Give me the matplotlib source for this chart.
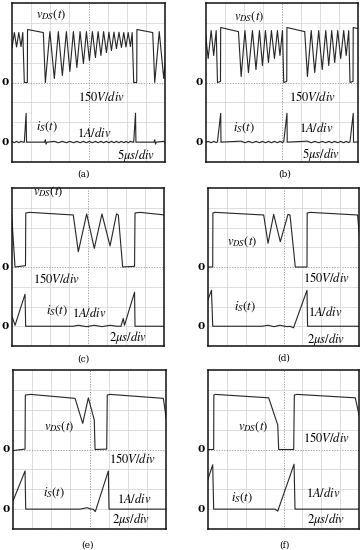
import numpy as np
import matplotlib.pyplot as plt

plt.rcParams['mathtext.fontset'] = 'stix'

W, H = 364, 550

V_DIV = 150.0      # V/div
I_DIV = 1.0        # A/div
I_ZERO = -3.0      # ground of the iS trace, in divisions from centre

# -------------------------------
# (a) 5us/div - one switching cycle, repeats
# -------------------------------
a_tdiv = 5.0
a_period = 28.6
a_first_on = 3.22
a_v_t = [0.0, 0.79, 0.84, 4.97,
         5.50, 6.68, 7.85, 8.90, 9.95, 11.0, 11.91, 12.83, 13.74, 14.58,
         15.45, 16.23, 17.02, 17.80, 18.59, 19.29, 20.03, 20.73, 21.47, 22.12,
         22.78, 23.43, 24.09, 24.74, 25.39, 26.0, 26.57, 27.15, 27.75, 28.2]
a_v = [0, 0, 400, 377,
       0, 384, 30, 384, 53, 384, 83, 384, 113, 384,
       143, 384, 166, 384, 188, 384, 204, 384, 226, 380,
       241, 380, 256, 380, 264, 377, 268, 377, 271, 377]
a_i_t = [0.0, 0.47, 0.58, 5.3, 5.5, 5.7, 5.9,
         7.85, 8.90, 9.95, 11.0, 11.91, 12.83, 13.74, 14.58, 15.45, 16.23,
         17.02, 17.80, 18.59, 19.29, 20.03, 20.73, 21.47, 22.12, 22.78, 23.43,
         24.09, 24.74, 25.39, 26.0, 26.57, 27.15, 27.75, 28.3]
a_i = [0.0, 1.45, 0.0, 0.0, 0.12, -0.1, 0.0,
       0.04, -0.03, 0.04, -0.03, 0.04, -0.03, 0.04, -0.03, 0.04, -0.03,
       0.04, -0.03, 0.04, -0.03, 0.04, -0.03, 0.04, -0.03, 0.04, -0.03,
       0.04, -0.03, 0.04, -0.03, 0.04, -0.03, 0.04, 0.0]

# -------------------------------
# (b) 5us/div - one switching cycle, repeats
# -------------------------------
b_tdiv = 5.0
b_period = 17.44
b_first_on = 3.02
b_v_t = [0.0, 0.79, 0.84, 5.52, 6.23, 7.23, 8.15, 9.2, 10.13, 11.05,
         11.84, 12.62, 13.41, 14.2, 14.99, 15.78, 16.44, 17.1]
b_v = [0, 8, 415, 384, 45, 392, 75, 392, 98, 392,
       128, 392, 151, 392, 181, 392, 204, 392]
b_i_t = [0.0, 0.85, 0.92, 6.23, 7.23, 8.15, 9.2, 10.13, 11.05, 11.84,
         12.62, 13.41, 14.2, 14.99, 15.78, 16.44, 17.1, 17.3]
b_i = [0.03, 1.45, 0.0, 0.05, -0.03, 0.04, -0.03, 0.04, -0.03, 0.04,
       -0.03, 0.04, -0.03, 0.04, -0.03, 0.04, -0.02, 0.0]

# -------------------------------
# (c) - (f) 2us/div
# -------------------------------
cf_tdiv = 2.0

c_v_t = [-0.05, 0.32, 1.42, 1.45, 1.89, 6.45, 6.98, 7.86, 8.66, 9.47,
         10.32, 11.0, 11.19, 11.65, 12.9, 12.95, 13.47, 16.1]
c_v = [410, 0, 10, 410, 415, 395, 116, 403, 142, 403,
       160, 403, 395, 0, 5, 410, 415, 395]
c_i_t = [0.03, 0.32, 1.37, 1.44, 6.42, 6.98, 7.86, 8.66, 9.47, 10.32,
         11.05, 11.47, 11.71, 11.84, 12.9, 12.95, 16.1]
c_i = [0.46, 0.05, 1.62, 0.0, 0.0, 0.05, -0.02, 0.05, -0.02, 0.05,
       0.0, 0.0, 0.4, 0.05, 1.72, 0.0, 0.0]

d_v_t = [-0.1, 0.50, 0.52, 0.74, 5.90, 6.36, 6.96, 7.66, 8.48, 8.69,
         9.25, 10.49, 10.51, 10.81, 15.85, 15.97, 16.05]
d_v = [0, 0, 410, 415, 395, 180, 400, 192, 400, 395,
       0, 0, 410, 415, 395, 296, 230]
d_i_t = [-0.05, 0.37, 0.50, 5.72, 6.36, 7.0, 7.63, 8.37, 8.69, 9.06,
         10.49, 10.55, 16.1]
d_i = [1.29, 1.82, 0.0, 0.0, 0.05, -0.02, 0.05, -0.02, 0.0, -0.08,
       1.82, 0.0, 0.0]

e_v_t = [0.0, 1.26, 1.29, 1.85, 6.49, 7.29, 7.88, 8.50, 8.58, 9.80,
         9.86, 10.15, 15.72, 15.97, 16.1]
e_v = [-8, 3, 411, 416, 386, 197, 390, 222, 0, 3,
       411, 416, 386, 260, 200]
e_i_t = [-0.05, 1.26, 1.33, 7.01, 7.32, 7.74, 8.16, 8.37, 8.61, 9.97,
         10.04, 16.1]
e_i = [0.35, 1.92, 0.0, 0.0, 0.03, 0.07, 0.0, 0.0, -0.12, 1.92,
       0.0, 0.0]

f_v_t = [-0.1, 0.60, 0.62, 0.77, 6.43, 7.39, 7.49, 9.08, 9.15, 9.43,
         15.61, 16.0]
f_v = [0, 0, 411, 416, 390, 185, 0, 0, 411, 416,
       390, 260]
f_i_t = [-0.05, 0.50, 0.60, 7.1, 7.39, 9.12, 9.22, 16.1]
f_i = [1.44, 2.23, 0.0, 0.0, -0.1, 2.26, 0.0, 0.0]

captions = ['(a)', '(b)', '(c)', '(d)', '(e)', '(f)']
tdiv_text = [r'$5\mu s/div$', r'$5\mu s/div$', r'$2\mu s/div$',
             r'$2\mu s/div$', r'$2\mu s/div$', r'$2\mu s/div$']


def tile(t, y, first_on, period, t_end):
    ts, ys = [], []
    k = -1
    while first_on + k * period < t_end:
        ts.append(np.asarray(t, float) + first_on + k * period)
        ys.append(np.asarray(y, float))
        k += 1
    return np.concatenate(ts), np.concatenate(ys)


a_vt, a_vv = tile(a_v_t, a_v, a_first_on, a_period, 8 * a_tdiv)
a_it, a_ii = tile(a_i_t, a_i, a_first_on, a_period, 8 * a_tdiv)
b_vt, b_vv = tile(b_v_t, b_v, b_first_on, b_period, 8 * b_tdiv)
b_it, b_ii = tile(b_i_t, b_i, b_first_on, b_period, 8 * b_tdiv)

traces = [
    (a_tdiv, a_vt, a_vv, a_it, a_ii),
    (b_tdiv, b_vt, b_vv, b_it, b_ii),
    (cf_tdiv, c_v_t, c_v, c_i_t, c_i),
    (cf_tdiv, d_v_t, d_v, d_i_t, d_i),
    (cf_tdiv, e_v_t, e_v, e_i_t, e_i),
    (cf_tdiv, f_v_t, f_v, f_i_t, f_i),
]

# -------------------------------
# layout (pixels of the 364x550 picture)
# -------------------------------
boxes = [(12, 3, 165, 162), (206, 3, 358, 162),
         (12, 188, 164, 346), (208, 188, 359, 346),
         (13, 370, 166, 529), (208, 370, 359, 529)]
# v label, 150V/div, iS label, 1A/div, time/div, caption
label_px = [
    [(51, 15), (101, 97), (47, 127), (94, 133), (136, 156), (83, 174)],
    [(249, 17), (312, 97), (244, 128), (316, 128), (321, 155), (285, 174)],
    [(48, 192), (56, 279), (57, 311), (89, 313), (128, 338), (83, 359)],
    [(242, 242), (326, 278), (245, 307), (325, 312), (326, 339), (284, 358)],
    [(59, 427), (132, 459), (54, 493), (134, 499), (131, 519), (88, 545)],
    [(253, 427), (326, 438), (242, 498), (323, 493), (326, 519), (284, 545)],
]

fig = plt.figure(figsize=(W / 100, H / 100), dpi=100)

for n, (box, (tdiv, vt, vv, it, ii)) in enumerate(zip(boxes, traces)):
    l, t, r, b = box
    ax = fig.add_axes([l / W, 1 - b / H, (r - l) / W, (b - t) / H])
    ax.set_xlim(0, 8 * tdiv)
    ax.set_ylim(-4, 4)
    for k in range(1, 8):
        if k == 4:
            kw = dict(color='#9a9a9a', lw=0.7, ls=(0, (1.2, 1.5)))
        else:
            kw = dict(color='#d8d8d8', lw=0.6, ls='-')
        ax.axvline(k * tdiv, zorder=0, **kw)
        ax.axhline(k - 4, zorder=0, **kw)
    ax.set_xticks([])
    ax.set_yticks([])
    for s in ax.spines.values():
        s.set_linewidth(1.1)
        s.set_color('#111111')

    ax.plot(vt, np.asarray(vv) / V_DIV, color='#262626', lw=0.8)
    ax.plot(it, np.asarray(ii) / I_DIV + I_ZERO, color='#262626', lw=0.8)

    for yy in (0, I_ZERO):
        ax.annotate('0', xy=(0, yy), xycoords=('axes fraction', 'data'),
                    xytext=(-3, 0), textcoords='offset pixels',
                    ha='right', va='center', fontsize=7.5,
                    family='DejaVu Serif', weight='bold')

    texts = [r'$v_{DS}(t)$', r'$150V/div$', r'$i_S(t)$', r'$1A/div$',
             tdiv_text[n]]
    for s, (x, y) in zip(texts, label_px[n][:5]):
        fig.text(x / W, 1 - y / H, s, ha='center', va='center', fontsize=9)
    x, y = label_px[n][5]
    fig.text(x / W, 1 - y / H, captions[n], ha='center', va='center',
             fontsize=6.5, family='DejaVu Serif')

fig.savefig('out.png', dpi=100)
